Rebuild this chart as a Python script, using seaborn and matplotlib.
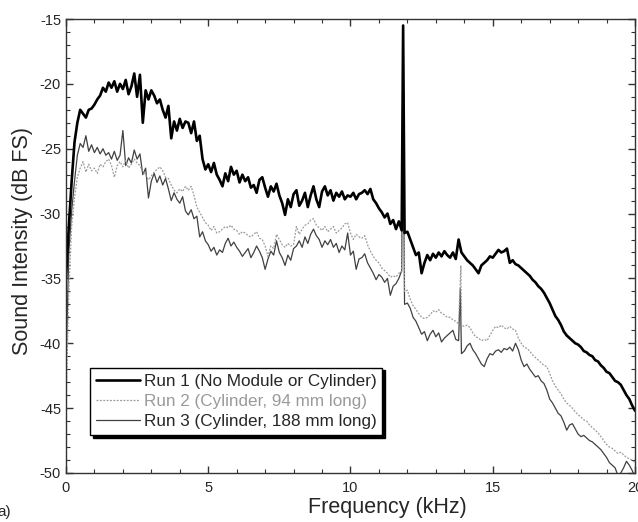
import numpy as np
import pandas as pd
import seaborn as sns
import matplotlib.pyplot as plt
from matplotlib.ticker import MultipleLocator

# frequency grid (kHz), 0.1 kHz steps
freq = np.round(np.arange(0, 20.05, 0.1), 1)

# Run 1 (No Module or Cylinder), dB FS
run1 = [
    -35.0, -31.0, -27.5, -24.5, -23.0, -22.0, -22.3, -22.6, -22.0, -21.9,
    -21.6, -21.2, -20.9, -20.3, -20.6, -19.9, -20.3, -19.8, -20.6, -20.0,
    -20.4, -19.7, -20.8, -20.2, -19.2, -21.0, -19.3, -23.0, -20.5, -21.2,
    -20.5, -20.9, -21.5, -21.2, -22.0, -22.6, -21.7, -24.2, -22.9, -23.6,
    -22.7, -23.4, -22.9, -23.0, -23.8, -22.9, -24.4, -24.0, -25.8, -26.6,
    -26.2, -26.8, -26.1, -27.0, -27.4, -27.9, -26.9, -27.5, -26.4, -27.0,
    -26.7, -27.6, -27.0, -27.5, -27.2, -28.0, -27.8, -28.4, -27.4, -27.2,
    -28.0, -28.7, -27.9, -28.3, -27.7, -28.6, -29.2, -30.1, -28.9, -29.5,
    -28.5, -28.2, -29.4, -29.0, -28.4, -29.5, -28.6, -27.9, -28.9, -29.5,
    -28.3, -27.9, -28.6, -28.2, -29.0, -28.4, -28.7, -28.3, -28.9, -28.6,
    -28.7, -28.4, -28.9, -28.5, -28.4, -28.2, -28.5, -28.1, -28.9, -29.2,
    -29.6, -29.9, -30.3, -30.0, -30.8, -30.5, -31.2, -30.6, -31.3, -31.5,
    -31.4, -32.0, -32.6, -33.2, -33.0, -34.6, -33.8, -33.2, -33.6, -33.1,
    -33.4, -33.0, -33.3, -32.9, -33.2, -33.4, -33.0, -33.5, -32.0, -33.0,
    -33.3, -33.6, -33.8, -34.0, -34.3, -34.6, -34.0, -33.8, -33.6, -33.3,
    -33.4, -33.1, -32.8, -33.0, -32.9, -32.7, -33.8, -33.6, -33.9, -34.0,
    -34.2, -34.4, -34.6, -34.8, -35.1, -35.3, -35.6, -35.8, -36.1, -36.5,
    -36.9, -37.4, -37.9, -38.2, -38.6, -39.1, -39.4, -39.6, -39.8, -40.0,
    -40.1, -40.3, -40.6, -40.7, -40.9, -41.0, -41.3, -41.4, -41.7, -41.9,
    -42.2, -42.3, -42.6, -42.9, -43.0, -43.2, -43.6, -44.0, -44.3, -44.8,
    -45.2,
]

# Run 2 (Cylinder, 94 mm long)
run2 = [
    -45.0, -36.0, -31.0, -28.8, -27.2, -26.5, -26.0, -26.8, -26.2, -26.7,
    -26.5, -26.9, -26.2, -26.4, -26.0, -25.8, -26.3, -27.2, -26.3, -26.0,
    -26.4, -25.9, -26.5, -26.2, -25.8, -26.1, -26.3, -26.8, -27.0, -27.4,
    -27.1, -26.8, -26.6, -26.4, -26.7, -27.2, -27.3, -27.8, -28.2, -28.4,
    -28.1, -28.3, -27.9, -28.2, -27.9, -28.6, -29.5, -29.9, -30.3, -30.7,
    -30.9, -31.3, -31.0, -31.5, -31.4, -31.2, -31.0, -31.1, -30.9, -31.2,
    -31.3, -31.6, -31.4, -31.5, -31.7, -31.8, -31.6, -31.4, -31.9, -32.0,
    -32.5, -33.3, -32.5, -32.7, -31.6, -32.0, -32.4, -32.6, -32.3, -32.5,
    -32.4, -31.0, -31.6, -31.2, -30.9, -30.8, -30.5, -30.4, -30.9, -31.1,
    -31.3, -31.0, -31.4, -31.2, -31.0, -31.5, -31.3, -31.1, -30.8, -30.7,
    -31.5, -32.0, -31.6, -31.8, -31.9, -31.7, -32.4, -32.9, -33.3, -33.6,
    -33.8, -34.2, -34.4, -34.6, -34.9, -34.8, -34.9, -34.6, -34.5, -36.0,
    -35.9, -36.6, -37.1, -37.4, -37.7, -38.0, -38.1, -38.0, -37.8, -37.5,
    -37.6, -37.4, -37.7, -37.8, -38.0, -38.0, -38.2, -38.3, -38.5, -38.6,
    -38.7, -38.6, -38.8, -39.2, -39.5, -39.6, -39.8, -39.7, -39.8, -39.4,
    -39.0, -38.7, -38.8, -38.6, -38.8, -38.9, -38.7, -38.9, -39.0, -39.6,
    -40.0, -40.3, -40.4, -40.6, -40.9, -41.1, -41.3, -41.5, -41.7, -41.8,
    -42.3, -42.9, -43.3, -43.6, -43.9, -44.3, -44.6, -44.8, -45.0, -45.3,
    -45.5, -45.7, -45.9, -46.0, -46.3, -46.5, -46.7, -46.9, -47.2, -47.5,
    -47.8, -48.0, -48.1, -48.3, -48.5, -48.4, -48.6, -48.8, -48.9, -49.0,
    -49.2,
]

# Run 3 (Cylinder, 188 mm long)
run3 = [
    -42.0, -33.0, -29.8, -27.5, -25.5, -24.6, -24.9, -24.0, -25.2, -24.7,
    -25.3, -24.9, -25.4, -25.0, -25.5, -25.3, -25.8, -25.2, -25.9, -25.5,
    -23.6, -26.3, -25.7, -26.1, -25.1, -25.8, -25.4, -27.0, -26.5, -28.8,
    -27.5, -26.9, -27.6, -27.1, -27.8, -27.3, -28.1, -29.0, -28.4, -28.9,
    -29.2, -28.7, -29.8, -30.1, -29.7, -30.4, -30.2, -31.8, -31.4, -32.1,
    -32.4, -32.9, -32.6, -33.2, -32.8, -33.0, -32.3, -31.9, -32.5, -32.2,
    -32.6, -32.9, -33.3, -33.0, -32.7, -33.4, -33.0, -32.5, -32.9, -33.4,
    -34.3, -33.5, -32.9, -33.2, -32.1, -33.0, -33.4, -34.0, -33.2, -33.6,
    -32.7, -32.5, -32.1, -32.6, -31.8, -32.3, -31.6, -31.2, -31.7, -32.0,
    -32.6, -32.1, -32.4, -32.0, -32.6, -32.3, -33.0, -32.5, -32.8, -31.5,
    -33.2, -32.9, -34.3, -33.5, -33.4, -33.1, -33.8, -34.2, -34.6, -35.1,
    -34.7, -34.9, -35.3, -35.0, -36.3, -35.6, -35.4, -35.0, -34.4, -37.0,
    -36.9, -37.3, -38.0, -38.3, -38.8, -39.3, -39.1, -39.8, -39.3, -39.0,
    -39.5, -39.2, -39.9, -39.6, -39.4, -39.2, -39.0, -39.7, -39.8, -40.8,
    -40.6, -40.2, -40.0, -40.5, -40.8, -41.2, -41.6, -41.8, -41.2, -40.8,
    -40.9, -40.6, -40.5, -40.7, -40.4, -40.5, -40.3, -40.6, -40.0, -40.5,
    -41.3, -41.8, -41.6, -42.0, -42.3, -42.6, -42.5, -42.9, -43.1, -43.6,
    -44.3, -44.6, -45.0, -45.4, -45.6, -46.1, -46.7, -46.3, -46.2, -46.6,
    -47.0, -47.2, -47.1, -47.3, -47.5, -47.6, -47.8, -48.0, -48.2, -48.5,
    -48.8, -49.2, -49.4, -49.6, -50.2, -50.0, -49.6, -49.1, -49.4, -49.8,
    -50.3,
]

# narrow tones (kHz, dB FS)
run1_spike_f = [11.85]
run1_spike_v = [-15.5]
run2_spike_f = [11.88, 13.88]
run2_spike_v = [-20.5, -34.0]
run3_spike_f = [11.84, 13.86]
run3_spike_v = [-18.5, -35.8]

labels = ['Run 1 (No Module or Cylinder)',
          'Run 2 (Cylinder, 94 mm long)',
          'Run 3 (Cylinder, 188 mm long)']


def make_df(vals, sf, sv):
    df = pd.DataFrame({'f': np.concatenate([freq, sf]),
                       'v': np.concatenate([vals, sv])})
    return df.sort_values('f')


sns.set_style('ticks')
plt.rcParams['font.family'] = ['Liberation Sans', 'DejaVu Sans']
plt.rcParams['axes.unicode_minus'] = False
plt.rcParams['xtick.direction'] = 'in'
plt.rcParams['ytick.direction'] = 'in'

fig = plt.figure(figsize=(6.38, 5.22), dpi=100)
ax = fig.add_axes([0.1034, 0.0939, 0.8919, 0.8697])

d3 = make_df(run3, run3_spike_f, run3_spike_v)
d2 = make_df(run2, run2_spike_f, run2_spike_v)
d1 = make_df(run1, run1_spike_f, run1_spike_v)

sns.lineplot(data=d3, x='f', y='v', ax=ax, color='#404040', lw=0.9,
             estimator=None, sort=False, label=labels[2])
sns.lineplot(data=d2, x='f', y='v', ax=ax, color='#9a9a9a', lw=0.9,
             linestyle=(0, (1.5, 1.2)), estimator=None, sort=False,
             label=labels[1])
sns.lineplot(data=d1, x='f', y='v', ax=ax, color='black', lw=1.9,
             estimator=None, sort=False, label=labels[0])

ax.set_xlim(0, 20)
ax.set_ylim(-50, -15)
ax.xaxis.set_major_locator(MultipleLocator(5))
ax.xaxis.set_minor_locator(MultipleLocator(1))
ax.yaxis.set_major_locator(MultipleLocator(5))
ax.yaxis.set_minor_locator(MultipleLocator(1))
ax.tick_params(which='both', top=True, right=True, direction='in',
               labelsize=10.5, color='#333333')
ax.tick_params(which='major', length=5, width=1)
ax.tick_params(which='minor', length=3, width=0.8)
ax.tick_params(axis='x', which='major', pad=6)
for s in ax.spines.values():
    s.set_color('#333333')
    s.set_linewidth(1.0)

ax.set_xlabel('Frequency (kHz)', fontsize=15.5)
ax.xaxis.set_label_coords(0.564, -0.052)
ax.set_ylabel('Sound Intensity (dB FS)', fontsize=15.5)
ax.yaxis.set_label_coords(-0.058, 0.51)

handles, labs = ax.get_legend_handles_labels()
order = [2, 1, 0]
leg = ax.legend([handles[i] for i in order], [labs[i] for i in order],
                loc='lower left', bbox_to_anchor=(0.042, 0.084),
                borderaxespad=0, fancybox=False, framealpha=1,
                edgecolor='black', fontsize=12.3, handlelength=2.6,
                handletextpad=0.2, labelspacing=0.3, borderpad=0.35,
                shadow={'color': 'black', 'alpha': 1})
leg.get_frame().set_linewidth(1.0)
leg.get_texts()[1].set_color('#9a9a9a')

fig.text(-0.004, 0.019, 'a)', fontsize=11, va='center', ha='left')

fig.savefig('out.png', dpi=100)
